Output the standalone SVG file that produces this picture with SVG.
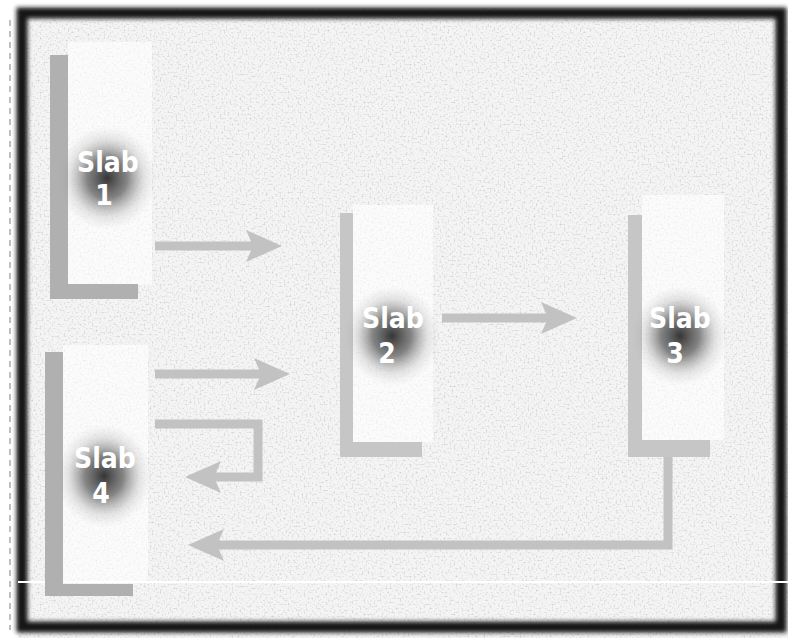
<svg xmlns="http://www.w3.org/2000/svg" width="788" height="638" viewBox="0 0 788 638">
  <defs>
    <style>
      .bar { fill: #b0b0b0; }
      .bar2 { fill: #c6c6c6; }
      .lite { fill: #ffffff; opacity: 0.6; }
      .conn { fill: none; stroke: #c2c2c2; stroke-width: 9; stroke-linejoin: miter; }
      .lbl { font-family: "DejaVu Sans Condensed", "DejaVu Sans", sans-serif; font-weight: bold; font-size: 28px; fill: #ffffff; text-anchor: middle; }
      .glow { fill: url(#glow); }
    </style>
    <radialGradient id="glow" cx="50%" cy="50%" r="50%">
      <stop offset="0%" stop-color="#202020" stop-opacity="0.9"/>
      <stop offset="40%" stop-color="#444444" stop-opacity="0.65"/>
      <stop offset="75%" stop-color="#888888" stop-opacity="0.2"/>
      <stop offset="100%" stop-color="#aaaaaa" stop-opacity="0"/>
    </radialGradient>
    <filter id="noise" x="0" y="0" width="100%" height="100%">
      <feTurbulence type="fractalNoise" baseFrequency="0.5" numOctaves="2" seed="3" result="t"/>
      <feColorMatrix type="matrix" values="0 0 0 0 0.6  0 0 0 0 0.6  0 0 0 0 0.6  0 0 0 2.4 -1.2" in="t"/>
    </filter>
    <filter id="soft" x="-5%" y="-5%" width="110%" height="110%">
      <feGaussianBlur stdDeviation="2"/>
    </filter>
    <marker id="ah" markerUnits="userSpaceOnUse" markerWidth="38" markerHeight="34" refX="16" refY="16" orient="auto" overflow="visible">
      <path d="M0,0 L36,16 L0,32 L7,16 z" fill="#c2c2c2"/>
    </marker>
  </defs>

  <!-- paper -->
  <rect x="0" y="0" width="788" height="638" fill="#ffffff"/>
  <rect x="18" y="8" width="770" height="630" fill="#f4f4f4"/>
  <rect x="18" y="8" width="770" height="630" filter="url(#noise)"/>
  <!-- dark frame -->
  <rect x="22" y="13" width="759" height="614" fill="none" stroke="#161616" stroke-width="11" filter="url(#soft)"/>
  <line x1="10" y1="20" x2="10" y2="630" stroke="#aaa" stroke-width="1.5" stroke-dasharray="6 5"/>
  <line x1="18" y1="582" x2="788" y2="582" stroke="#ffffff" stroke-width="2"/>

  <!-- Slab 1 -->
  <g id="slab1">
    <rect class="lite" x="68" y="42" width="84" height="243"/>
    <rect class="bar" x="50" y="55" width="18" height="244"/>
    <rect class="bar" x="50" y="284" width="88" height="15"/>
    <ellipse class="glow" cx="107" cy="178" rx="50" ry="52"/>
    <text class="lbl" x="108" y="172">Slab</text>
    <text class="lbl" x="104" y="205">1</text>
  </g>

  <!-- Slab 2 -->
  <g id="slab2">
    <rect class="lite" x="353" y="205" width="80" height="237"/>
    <rect class="bar2" x="340" y="213" width="13" height="244"/>
    <rect class="bar2" x="340" y="442" width="82" height="15"/>
    <ellipse class="glow" cx="392" cy="336" rx="48" ry="50"/>
    <text class="lbl" x="393" y="328">Slab</text>
    <text class="lbl" x="387" y="363">2</text>
  </g>

  <!-- Slab 3 -->
  <g id="slab3">
    <rect class="lite" x="642" y="195" width="82" height="245"/>
    <rect class="bar2" x="628" y="215" width="14" height="242"/>
    <rect class="bar2" x="628" y="440" width="82" height="17"/>
    <ellipse class="glow" cx="680" cy="336" rx="48" ry="50"/>
    <text class="lbl" x="680" y="328">Slab</text>
    <text class="lbl" x="675" y="363">3</text>
  </g>

  <!-- Slab 4 -->
  <g id="slab4">
    <rect class="lite" x="63" y="345" width="85" height="238"/>
    <rect class="bar" x="45" y="352" width="18" height="240"/>
    <rect class="bar" x="45" y="584" width="88" height="12"/>
    <ellipse class="glow" cx="104" cy="476" rx="48" ry="52"/>
    <text class="lbl" x="105" y="468">Slab</text>
    <text class="lbl" x="101" y="503">4</text>
  </g>

  <!-- connectors -->
  <g id="connectors">
    <path class="conn" d="M155,246 H262" marker-end="url(#ah)"/>
    <path class="conn" d="M442,318 H557" marker-end="url(#ah)"/>
    <path class="conn" d="M155,374 H270" marker-end="url(#ah)"/>
    <path class="conn" d="M155,424 H258 V477 H205" marker-end="url(#ah)"/>
    <path class="conn" d="M668,457 V545 H208" marker-end="url(#ah)"/>
  </g>
</svg>
